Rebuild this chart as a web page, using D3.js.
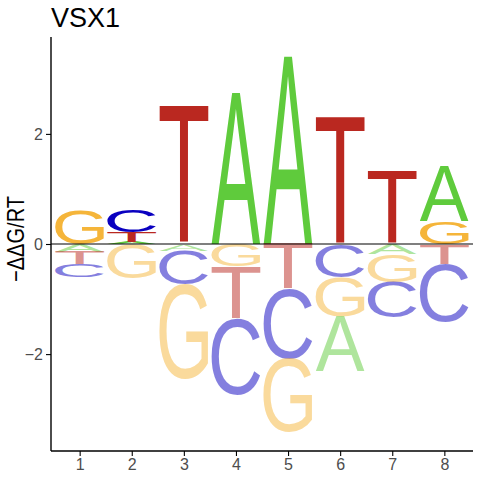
<!DOCTYPE html>
<html lang="en">
  <head>
    <meta charset="UTF-8" />
    <title>VSX1</title>
    <script src="https://cdn.jsdelivr.net/npm/d3@7"></script>
    <style>
      body { margin: 0; background: #fff; }
      svg { display: block; }
      text { font-family: "Liberation Sans", Arial, sans-serif; }
    </style>
  </head>
  <body>
  <svg id="logo"></svg>

  <script>
    // positions and per-letter energy values
    const positions = [1, 2, 3, 4, 5, 6, 7, 8];
    const letters = ['A', 'C', 'G', 'T'];
    const valA = [-0.14, 0.04, -0.12, 2.74, 3.41, -1.00, -0.18, 1.00];
    const valC = [-0.24, 0.41, -0.61, -1.38, -1.27, -0.60, -0.64, -1.06];
    const valG = [0.62, -0.62, -1.72, -0.41, -1.33, -0.71, -0.51, 0.41];
    const valT = [-0.23, 0.18, 2.50, -0.95, -0.82, 2.31, 1.32, -0.36];
    const yTicks = [-2, 0, 2];

    const colors = { A: '#5fcb3c', C: '#0a00c0', G: '#f5b53a', T: '#ba2820' };
    const values = { A: valA, C: valC, G: valG, T: valT };

    const width = 480, height = 480;
    const svg = d3.select('#logo').attr('width', width).attr('height', height);

    const x = d3.scaleLinear().domain([0.45, 8.55]).range([51, 473]);
    const y = d3.scaleLinear().domain([-3.76, 3.76]).range([451, 37]);
    const letterW = 0.94;

    // tight glyph bounds, so a letter can be stretched to fill its box
    const ctx = document.createElement('canvas').getContext('2d');
    ctx.font = '100px "Liberation Sans"';
    const glyph = {};
    letters.forEach(l => {
      const m = ctx.measureText(l);
      glyph[l] = { left: m.actualBoundingBoxLeft, right: m.actualBoundingBoxRight,
                   asc: m.actualBoundingBoxAscent, desc: m.actualBoundingBoxDescent };
    });

    // stack: positive grows up (largest on top), negative grows down (largest at bottom)
    const stacks = [];
    positions.forEach((p, i) => {
      const items = letters.map(l => ({ letter: l, v: values[l][i] }));
      let up = 0, down = 0;
      items.filter(d => d.v > 0).sort((a, b) => a.v - b.v).forEach(d => {
        stacks.push({ pos: p, letter: d.letter, y0: up, y1: up + d.v, neg: false });
        up += d.v;
      });
      items.filter(d => d.v < 0).sort((a, b) => b.v - a.v).forEach(d => {
        stacks.push({ pos: p, letter: d.letter, y0: down + d.v, y1: down, neg: true });
        down += d.v;
      });
    });

    svg.append('g').selectAll('text')
      .data(stacks)
      .enter().append('text')
        .attr('font-size', 100)
        .attr('fill', d => colors[d.letter])
        .attr('fill-opacity', d => d.neg ? 0.5 : 1)
        .attr('transform', d => {
          const g = glyph[d.letter];
          const x0 = x(d.pos - letterW / 2), x1 = x(d.pos + letterW / 2);
          const top = y(d.y1), bot = y(d.y0);
          const sx = (x1 - x0) / (g.left + g.right);
          const sy = (bot - top) / (g.asc + g.desc);
          return `translate(${x0},${top}) scale(${sx},${sy}) translate(${g.left},${g.asc})`;
        })
        .text(d => d.letter);

    // zero line
    svg.append('line')
      .attr('x1', x.range()[0]).attr('x2', x.range()[1])
      .attr('y1', y(0)).attr('y2', y(0))
      .attr('stroke', '#000').attr('stroke-width', 1.1);

    // axes
    const xAxis = svg.append('g')
      .attr('transform', `translate(0,${y.range()[0]})`)
      .call(d3.axisBottom(x).tickValues(positions).tickSize(5).tickPadding(3).tickFormat(d3.format('d')));
    const yAxis = svg.append('g')
      .attr('transform', `translate(${x.range()[0]},0)`)
      .call(d3.axisLeft(y).tickValues(yTicks).tickSize(5).tickPadding(3).tickFormat(d3.format('d')));

    [xAxis, yAxis].forEach(a => {
      a.select('.domain').attr('stroke', '#000').attr('stroke-width', 1.4);
      a.selectAll('.tick line').attr('stroke', '#000').attr('stroke-width', 1.1);
      a.selectAll('.tick text')
        .attr('fill', '#4d4d4d')
        .attr('font-size', 16)
        .attr('font-family', '"Liberation Sans", Arial, sans-serif');
    });
    // flat axis ends like ggplot
    xAxis.select('.domain').attr('d', `M${x.range()[0]},0H${x.range()[1]}`);
    yAxis.select('.domain').attr('d', `M0,${y.range()[0]}V${y.range()[1]}`);

    // y axis title
    svg.append('text')
      .attr('transform', 'translate(24,239) rotate(-90)')
      .attr('text-anchor', 'middle')
      .attr('font-size', 24)
      .attr('textLength', 86)
      .attr('lengthAdjust', 'spacingAndGlyphs')
      .attr('fill', '#000')
      .text('\u2212\u0394\u0394G/RT');

    // title
    svg.append('text')
      .attr('x', 51).attr('y', 27)
      .attr('font-size', 27)
      .attr('fill', '#000')
      .text('VSX1');
  </script>
  </body>
</html>
